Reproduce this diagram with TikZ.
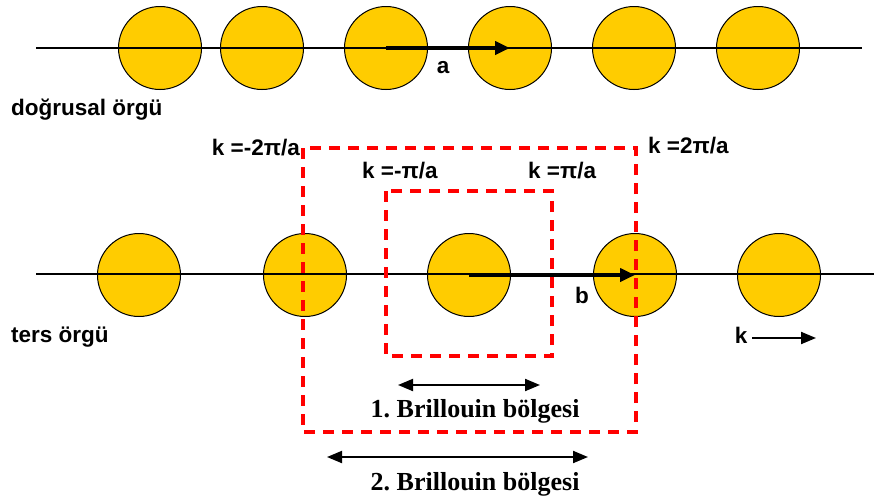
\documentclass[tikz,border=0pt]{standalone}
\usepackage{fontspec}
\setmainfont{Liberation Serif}
\setsansfont{Liberation Sans}
\usetikzlibrary{arrows.meta}
\definecolor{atom}{HTML}{FFCC00}
\definecolor{zone}{HTML}{FF0000}
\begin{document}
\begin{tikzpicture}[x=1pt,y=-1pt,
  atomc/.style={circle,draw=black,line width=1pt,fill=atom,minimum size=83pt,inner sep=0pt},
  axis/.style={line width=1.5pt},
  vec/.style={line width=4pt,-{Triangle[length=15pt,width=13pt]}},
  zonebox/.style={draw=zone,line width=3.4pt,dash pattern=on 11pt off 8pt},
  lab/.style={font=\sffamily\bfseries\fontsize{22.5}{24}\selectfont,inner sep=0pt},
  blab/.style={font=\rmfamily\bfseries\fontsize{26}{28}\selectfont,inner sep=0pt},
  dbl/.style={line width=2pt,{Triangle[length=15pt,width=12pt]}-{Triangle[length=15pt,width=12pt]}}]
\useasboundingbox (0,0) rectangle (874,501);
% top lattice
\coordinate (tl) at (36,48);
\coordinate (tr) at (862,48);
\foreach \i/\x in {1/160,2/262,3/386,4/510,5/634,6/758}
  \node[atomc] (t\i) at (\x,48) {};
\draw[axis] (tl) -- (tr);
\draw[vec] (t3.center) -- (t4.center);
\node[lab] (la) at (443,68) {a};
\node[lab,anchor=west] (ldir) at (11,110) {doğrusal örgü};
% bottom lattice
\coordinate (bl) at (36,274);
\coordinate (br) at (874,274);
\foreach \i/\x in {1/139,2/305,3/469,4/635,5/779}
  \node[atomc] (b\i) at (\x,275) {};
\draw[axis] (bl) -- (br);
% zones
\draw[zonebox] (303,148) rectangle (636,432);
\draw[zonebox] (386,191) rectangle (552,356);
\draw[vec] (b3.center) -- (b4.center);
\node[lab] (lb) at (582,295) {b};
\node[lab,anchor=west] (lrec) at (11,337) {ters örgü};
% k labels
\node[lab,anchor=east] (km2) at (300,148) {k =-2π/a};
\node[lab,anchor=west] (kp2) at (648,146) {k =2π/a};
\node[lab,anchor=west] (km1) at (362,171) {k =-π/a};
\node[lab,anchor=west] (kp1) at (528,171) {k =π/a};
% k direction
\node[lab] (kk) at (741,335) {k};
\coordinate (ks) at (752,338);
\coordinate (ke) at (816,338);
\draw[line width=2pt,-{Triangle[length=15pt,width=12pt]}] (ks) -- (ke);
% Brillouin zones
\coordinate (z1l) at (398,385);
\coordinate (z1r) at (540,385);
\draw[dbl] (z1l) -- (z1r);
\node[blab] (bz1) at (475,411) {1.\hspace{-2pt} Brillouin bölgesi};
\coordinate (z2l) at (327,457);
\coordinate (z2r) at (588,457);
\draw[dbl] (z2l) -- (z2r);
\node[blab] (bz2) at (475,484) {2.\hspace{-2pt} Brillouin bölgesi};
\end{tikzpicture}
\end{document}
